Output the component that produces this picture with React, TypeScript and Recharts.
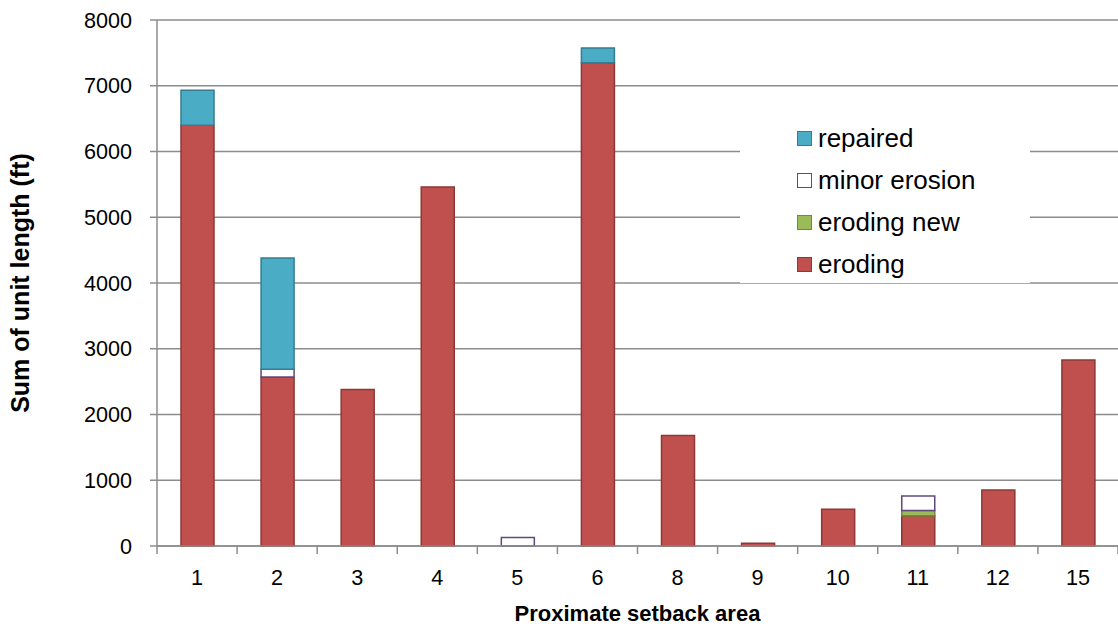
import { BarChart, Bar, XAxis, YAxis, CartesianGrid, Label } from "recharts"

const areas = ["1", "2", "3", "4", "5", "6", "8", "9", "10", "11", "12", "15"]
const eroding = [6400, 2570, 2380, 5460, 0, 7350, 1680, 40, 560, 460, 850, 2830]
const erodingNew = [0, 0, 0, 0, 0, 0, 0, 0, 0, 80, 0, 0]
const minorErosion = [0, 120, 0, 0, 130, 0, 0, 0, 0, 220, 0, 0]
const repaired = [530, 1690, 0, 0, 0, 225, 0, 0, 0, 0, 0, 0]
const yTicks = [0, 1000, 2000, 3000, 4000, 5000, 6000, 7000, 8000]

const data = areas.map((a, i) => ({
  area: a,
  eroding: eroding[i],
  erodingNew: erodingNew[i],
  minorErosion: minorErosion[i],
  repaired: repaired[i],
}))

const legendItems = [
  { label: "repaired", fill: "#4BACC6", stroke: "#357D91" },
  { label: "minor erosion", fill: "#FFFFFF", stroke: "#5F497A" },
  { label: "eroding new", fill: "#9BBB59", stroke: "#71893F" },
  { label: "eroding", fill: "#C0504D", stroke: "#8C3836" },
]

const FONT = "'Liberation Sans', Arial, sans-serif"
const GRID = "#8c8c8c"
const STEP = (1118 - 157) / areas.length

const XTick = (props: any) => {
  const { x, y, payload, index } = props
  const last = index === areas.length - 1
  return (
    <g>
      <line x1={x - STEP / 2} x2={x - STEP / 2} y1={y - 8} y2={y} stroke={GRID} strokeWidth={1.5} />
      {last && <line x1={x + STEP / 2} x2={x + STEP / 2} y1={y - 8} y2={y} stroke={GRID} strokeWidth={1.5} />}
      <text x={x} y={y + 31} textAnchor="middle" fontSize={21.6} fill="#000" fontFamily={FONT}>
        {payload.value}
      </text>
    </g>
  )
}

const LegendBox = () => (
  <div
    style={{
      position: "absolute",
      left: 740,
      top: 116,
      background: "#fff",
      width: 290,
      height: 167,
      paddingTop: 1,
      boxSizing: "border-box",
    }}
  >
    {legendItems.map((it) => (
      <div key={it.label} style={{ display: "flex", alignItems: "center", height: 42, paddingLeft: 57 }}>
        <span
          style={{
            width: 13,
            height: 13,
            background: it.fill,
            border: `1.5px solid ${it.stroke}`,
            marginRight: 6,
            display: "inline-block",
          }}
        />
        <span style={{ fontSize: 26, fontFamily: FONT, color: "#000", lineHeight: "30px" }}>{it.label}</span>
      </div>
    ))}
  </div>
)

export default function App() {
  return (
    <div style={{ position: "absolute", left: 0, top: 0, width: 1118, height: 631, background: "#fff" }}>
      <BarChart
        width={1118}
        height={631}
        data={data}
        margin={{ top: 20, right: 0, bottom: 0, left: 0 }}
        barSize={33}
      >
        <CartesianGrid vertical={false} stroke={GRID} strokeWidth={1.5} />
        <XAxis
          dataKey="area"
          axisLine={{ stroke: GRID, strokeWidth: 1.5 }}
          tickLine={false}
          tick={<XTick />}
          height={85}
          interval={0}
        >
          <Label
            value="Proximate setback area"
            position="insideBottom"
            offset={10}
            style={{ fontSize: 22, fontWeight: "bold", fontFamily: FONT, fill: "#000" }}
          />
        </XAxis>
        <YAxis
          width={157}
          domain={[0, 8000]}
          ticks={yTicks}
          interval={0}
          axisLine={{ stroke: GRID, strokeWidth: 1.5 }}
          tickLine={{ stroke: GRID, strokeWidth: 1.5 }}
          tickSize={7}
          tickMargin={18}
          tick={{ fontSize: 21.6, fill: "#000", fontFamily: FONT }}
        >
          <Label
            value="Sum of unit length (ft)"
            angle={-90}
            position="insideLeft"
            offset={20}
            style={{ textAnchor: "middle", fontSize: 25, fontWeight: "bold", fontFamily: FONT, fill: "#000" }}
          />
        </YAxis>
        <Bar dataKey="eroding" stackId="a" fill="#C0504D" stroke="#8C3836" strokeWidth={1.5} isAnimationActive={false} />
        <Bar dataKey="erodingNew" stackId="a" fill="#9BBB59" stroke="#71893F" strokeWidth={1.5} isAnimationActive={false} />
        <Bar dataKey="minorErosion" stackId="a" fill="#FFFFFF" stroke="#5F497A" strokeWidth={1.5} isAnimationActive={false} />
        <Bar dataKey="repaired" stackId="a" fill="#4BACC6" stroke="#357D91" strokeWidth={1.5} isAnimationActive={false} />
      </BarChart>
      <LegendBox />
    </div>
  )
}
